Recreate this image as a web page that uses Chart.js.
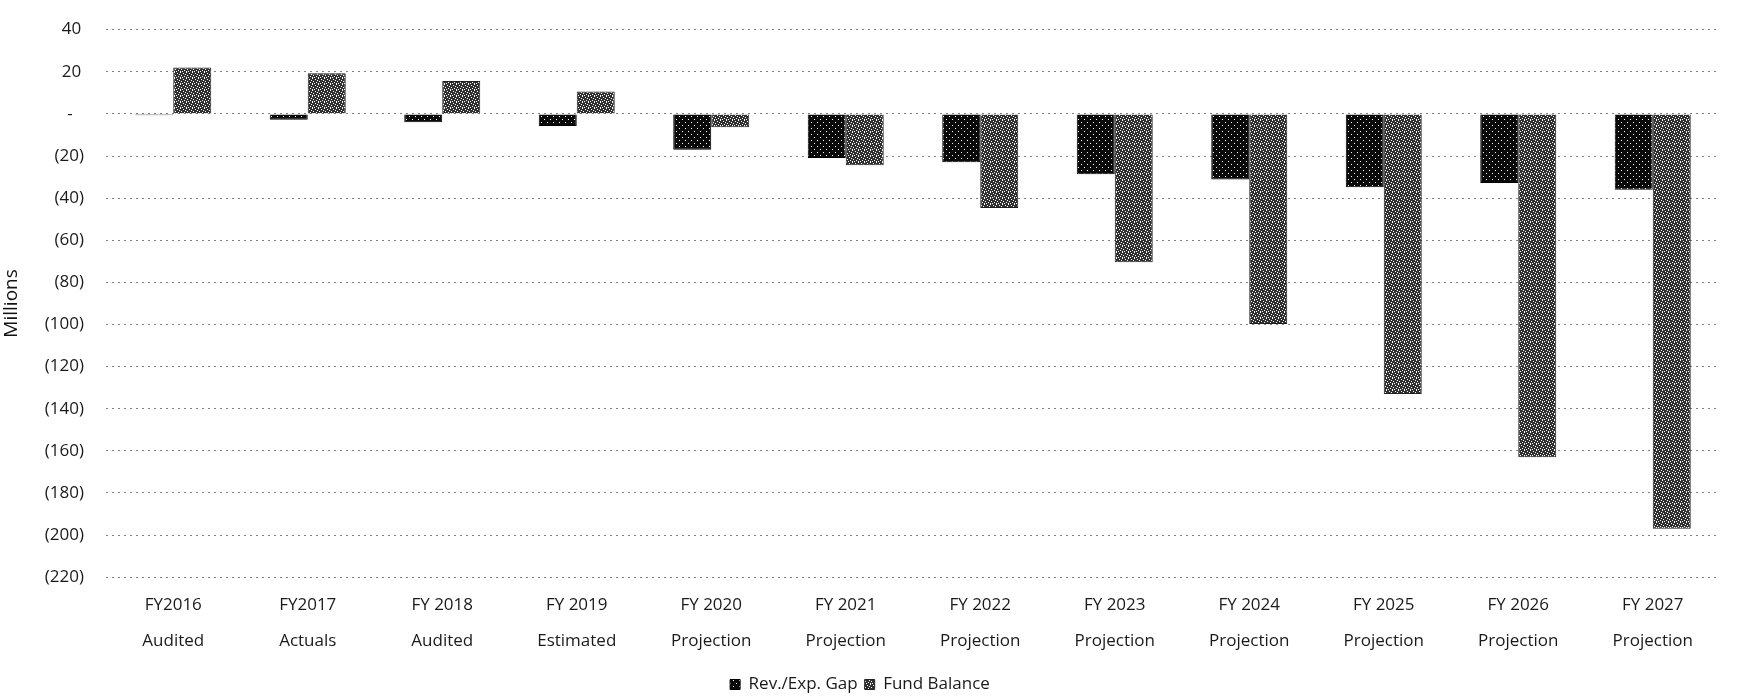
<!DOCTYPE html>
<html>
<head>
<meta charset="utf-8">
<script src="https://cdn.jsdelivr.net/npm/chart.js@4.4.1/dist/chart.umd.min.js"></script>
<style>
  html, body { margin: 0; padding: 0; background: #fff; }
  #wrap { width: 1741px; height: 697px; }
</style>
</head>
<body>
<div id="wrap"><canvas id="gapChart"></canvas></div>
<script>
const years = ['FY2016', 'FY2017', 'FY 2018', 'FY 2019', 'FY 2020', 'FY 2021',
    'FY 2022', 'FY 2023', 'FY 2024', 'FY 2025', 'FY 2026', 'FY 2027'];
const stages = ['Audited', 'Actuals', 'Audited', 'Estimated', 'Projection', 'Projection',
    'Projection', 'Projection', 'Projection', 'Projection', 'Projection', 'Projection'];

// millions
const revExpGap = [-0.6, -2.8, -4.0, -5.7, -17.0, -20.9, -23.0, -28.7, -31.2, -34.8, -32.8, -36.0];
const fundBalance = [22.0, 19.3, 15.6, 10.6, -6.3, -24.4, -44.7, -70.5, -99.8, -133.0, -163.0, -197.0];

const yMin = -220, yMax = 40, yStep = 20;

// stippled fills, like the scanned original
function makePattern(base, dots) {
    const c = document.createElement('canvas');
    c.width = 6; c.height = 6;
    const g = c.getContext('2d');
    g.fillStyle = base;
    g.fillRect(0, 0, 6, 6);
    g.fillStyle = '#fff';
    dots.forEach(([x, y]) => g.fillRect(x, y, 1, 1));
    return g.createPattern(c, 'repeat');
}

const gapFill = makePattern('#0a0a0a', [[1, 2], [4, 5]]);
const fundFill = makePattern('#303030', [[0, 0], [3, 1], [5, 2], [1, 3], [4, 4], [2, 5], [0, 5]]);

function acct(v) {
    if (v === 0) return '-\u2002\u2009';
    if (v < 0) return '(' + (-v) + ')';
    return v + '\u2009';
}

const ctx = document.getElementById('gapChart').getContext('2d');
Chart.defaults.font.family = "'Open Sans', sans-serif";
Chart.defaults.color = '#1a1a1a';

new Chart(ctx, {
    type: 'bar',
    data: {
        labels: years.map((y, i) => [y, stages[i]]),
        datasets: [
            {
                label: 'Rev./Exp. Gap',
                data: revExpGap,
                backgroundColor: gapFill,
                borderColor: '#000',
                borderWidth: 1,
                barPercentage: 1,
                categoryPercentage: 0.565
            },
            {
                label: 'Fund Balance',
                data: fundBalance,
                backgroundColor: fundFill,
                borderColor: '#222',
                borderWidth: 1,
                barPercentage: 1,
                categoryPercentage: 0.565
            }
        ]
    },
    options: {
        responsive: true,
        maintainAspectRatio: false,
        animation: false,
        devicePixelRatio: 1,
        layout: { padding: { top: 4, right: 21, left: 0, bottom: -6 } },
        scales: {
            x: {
                grid: { display: false, drawTicks: false },
                border: { display: false },
                ticks: {
                    padding: 9,
                    maxRotation: 0,
                    autoSkip: false,
                    font: { size: 17, lineHeight: 2.17 },
                    color: '#1a1a1a'
                }
            },
            y: {
                min: yMin,
                max: yMax,
                border: { display: false },
                grid: {
                    color: 'rgba(0,0,0,0.5)',
                    lineWidth: 1,
                    drawTicks: false
                },
                ticks: {
                    stepSize: yStep,
                    padding: 22,
                    font: { size: 17, lineHeight: 0.9 },
                    color: '#1a1a1a',
                    callback: v => acct(v)
                },
                title: {
                    display: true,
                    text: 'Millions',
                    font: { size: 19 },
                    color: '#111',
                    padding: { top: 0, bottom: 0 }
                }
            }
        },
        plugins: {
            legend: {
                position: 'bottom',
                labels: {
                    boxWidth: 10,
                    boxHeight: 10,
                    padding: 7,
                    font: { size: 17 },
                    color: '#1a1a1a'
                }
            },
            tooltip: { enabled: false }
        }
    },
    plugins: [{
        // dotted gridlines
        id: 'dottedGrid',
        beforeInit(chart) {
            chart.options.scales.y.border.dash = [2, 4];
            chart.options.scales.y.grid.borderDash = [2, 4];
        }
    }]
});
</script>
</body>
</html>
